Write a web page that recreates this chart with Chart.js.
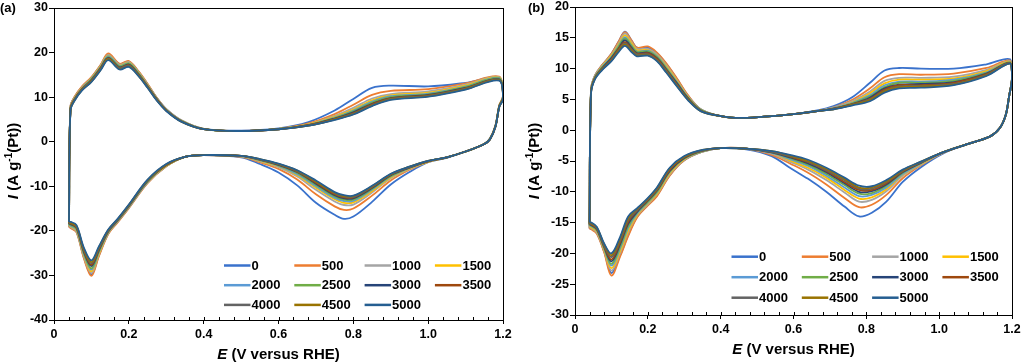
<!DOCTYPE html>
<html>
<head>
<meta charset="utf-8">
<script src="https://cdn.jsdelivr.net/npm/chart.js@4.4.1/dist/chart.umd.min.js"></script>
<style>
  html, body { margin: 0; padding: 0; background: #fff; }
  #wrap { position: relative; width: 1024px; height: 363px; }
  .panel { position: absolute; top: 0; width: 512px; height: 363px; }
</style>
</head>
<body>
<div id="wrap">
  <div class="panel" style="left:0"><canvas id="chartA"></canvas></div>
  <div class="panel" style="left:512px"><canvas id="chartB"></canvas></div>
</div>
<script>
// cycle numbers (legend) and Excel-style series colours
const cycles = ['0', '500', '1000', '1500', '2000', '2500', '3000', '3500', '4000', '4500', '5000'];
const colors = ['#3A72CC', '#ED7D31', '#A5A5A5', '#FFC000', '#5B9BD5', '#70AD47',
                '#264478', '#9E480E', '#636363', '#997300', '#255E91'];

// ---- panel (a): potential along the CV loop (anodic scan, then cathodic scan) ----
const eA = [0.040, 0.044, 0.055, 0.075, 0.10, 0.125, 0.145, 0.175, 0.20, 0.225, 0.25, 0.275, 0.30, 0.34, 0.40, 0.50, 0.60, 0.68, 0.75, 0.80, 0.85, 0.90, 1.00, 1.10, 1.19,
            1.20, 1.19, 1.18, 1.165, 1.15, 1.10, 1.05, 1.00, 0.95, 0.90, 0.85, 0.80, 0.775, 0.75, 0.70, 0.65, 0.60, 0.55, 0.50, 0.40, 0.35, 0.30, 0.25, 0.20, 0.17, 0.145, 0.12, 0.10, 0.08, 0.06, 0.045, 0.040];

// current, A g-1(Pt), one array per cycle count
const a0    = [-19.0, 7.8, 10.0, 12.3, 14.4, 17.2, 19.6, 17.4, 18.0, 15.8, 12.9, 9.8, 7.3, 4.8, 2.9, 2.5, 3.0, 4.4, 7.0, 9.6, 12.1, 12.6, 12.4, 13.2, 14.3,
               10.2, 8.1, 3.6, 0.7, -0.5, -2.2, -3.6, -4.6, -6.8, -9.6, -13.5, -16.8, -17.3, -16.4, -13.7, -9.8, -6.9, -5.0, -3.5, -3.0, -3.4, -5.5, -9.2, -14.8, -18.0, -20.6, -25.5, -29.8, -26.0, -20.2, -19.3, -19.0];
const a500  = [-19.1, 7.9, 10.1, 12.4, 14.5, 17.3, 19.8, 17.5, 18.1, 15.9, 13.0, 9.8, 7.3, 4.8, 2.9, 2.4, 2.9, 4.1, 6.2, 8.3, 10.5, 11.4, 11.8, 13.1, 14.6,
               10.3, 8.2, 3.7, 0.7, -0.5, -2.2, -3.5, -4.5, -6.3, -8.7, -12.1, -15.0, -15.3, -14.5, -11.8, -8.5, -6.1, -4.6, -3.4, -3.0, -3.4, -5.5, -9.3, -14.9, -18.1, -20.7, -25.7, -30.1, -26.2, -20.3, -19.4, -19.1];
const a1000 = [-18.9, 7.7, 9.9, 12.2, 14.3, 17.1, 19.5, 17.3, 17.9, 15.7, 12.8, 9.7, 7.3, 4.8, 2.9, 2.4, 2.9, 3.9, 5.8, 7.6, 9.7, 10.7, 11.3, 12.8, 14.5,
               10.2, 8.1, 3.6, 0.6, -0.5, -2.2, -3.5, -4.5, -6.1, -8.2, -11.4, -14.1, -14.2, -13.4, -10.8, -7.8, -5.7, -4.4, -3.3, -3.0, -3.4, -5.5, -9.1, -14.7, -17.9, -20.5, -25.3, -29.5, -25.8, -20.1, -19.2, -18.9];
const a1500 = [-18.8, 7.6, 9.8, 12.1, 14.2, 17.0, 19.3, 17.1, 17.7, 15.6, 12.7, 9.7, 7.2, 4.7, 2.9, 2.4, 2.9, 3.9, 5.6, 7.2, 9.3, 10.4, 11.0, 12.6, 14.4,
               10.1, 8.1, 3.6, 0.6, -0.5, -2.2, -3.5, -4.5, -6.0, -8.0, -11.1, -13.6, -13.7, -12.9, -10.3, -7.5, -5.5, -4.3, -3.3, -3.0, -3.4, -5.4, -9.0, -14.6, -17.8, -20.4, -25.1, -29.1, -25.5, -19.9, -19.0, -18.8];
const a2000 = [-18.7, 7.5, 9.7, 12.0, 14.1, 16.8, 19.2, 17.0, 17.6, 15.5, 12.6, 9.6, 7.2, 4.7, 2.9, 2.4, 2.9, 3.8, 5.4, 7.0, 9.0, 10.2, 10.8, 12.4, 14.3,
               10.0, 8.0, 3.5, 0.6, -0.5, -2.2, -3.5, -4.4, -5.9, -7.8, -10.8, -13.3, -13.3, -12.6, -10.0, -7.3, -5.4, -4.2, -3.3, -3.0, -3.4, -5.3, -9.0, -14.6, -17.8, -20.3, -24.8, -28.7, -25.3, -19.7, -18.9, -18.7];
const a2500 = [-18.6, 7.4, 9.6, 11.9, 14.0, 16.7, 19.0, 16.9, 17.5, 15.4, 12.5, 9.5, 7.1, 4.7, 2.8, 2.4, 2.9, 3.8, 5.3, 6.8, 8.8, 10.0, 10.6, 12.3, 14.2,
               10.0, 8.0, 3.5, 0.6, -0.5, -2.2, -3.5, -4.4, -5.8, -7.7, -10.6, -13.0, -13.0, -12.3, -9.7, -7.0, -5.3, -4.1, -3.2, -3.0, -3.4, -5.3, -8.9, -14.5, -17.7, -20.2, -24.6, -28.4, -25.0, -19.5, -18.7, -18.6];
const a3000 = [-18.4, 7.3, 9.5, 11.8, 13.8, 16.6, 18.8, 16.7, 17.3, 15.2, 12.4, 9.5, 7.1, 4.6, 2.8, 2.4, 2.8, 3.7, 5.2, 6.6, 8.5, 9.8, 10.5, 12.1, 14.0,
               9.9, 7.9, 3.5, 0.5, -0.5, -2.2, -3.5, -4.4, -5.8, -7.5, -10.4, -12.7, -12.7, -12.0, -9.4, -6.8, -5.2, -4.0, -3.2, -3.0, -3.4, -5.2, -8.8, -14.4, -17.6, -20.1, -24.3, -27.9, -24.7, -19.3, -18.5, -18.4];
const a3500 = [-18.3, 7.3, 9.5, 11.8, 13.7, 16.5, 18.7, 16.6, 17.2, 15.1, 12.4, 9.4, 7.0, 4.6, 2.8, 2.4, 2.8, 3.7, 5.1, 6.4, 8.4, 9.7, 10.4, 12.0, 13.9,
               9.8, 7.9, 3.4, 0.5, -0.5, -2.2, -3.5, -4.4, -5.7, -7.4, -10.2, -12.5, -12.5, -11.8, -9.2, -6.7, -5.1, -4.0, -3.2, -3.0, -3.4, -5.2, -8.7, -14.3, -17.5, -20.0, -24.1, -27.6, -24.5, -19.2, -18.4, -18.3];
const a4000 = [-18.2, 7.2, 9.4, 11.7, 13.6, 16.3, 18.6, 16.5, 17.1, 15.0, 12.3, 9.3, 7.0, 4.6, 2.8, 2.4, 2.8, 3.6, 5.0, 6.3, 8.2, 9.6, 10.3, 11.9, 13.9,
               9.8, 7.9, 3.4, 0.5, -0.5, -2.2, -3.5, -4.3, -5.7, -7.3, -10.1, -12.4, -12.3, -11.6, -9.0, -6.6, -5.0, -4.0, -3.2, -3.0, -3.4, -5.1, -8.7, -14.3, -17.5, -19.9, -23.9, -27.3, -24.3, -19.0, -18.3, -18.2];
const a4500 = [-18.1, 7.1, 9.3, 11.6, 13.5, 16.2, 18.5, 16.3, 16.9, 14.9, 12.2, 9.3, 7.0, 4.5, 2.8, 2.4, 2.8, 3.6, 5.0, 6.2, 8.1, 9.5, 10.2, 11.8, 13.8,
               9.7, 7.8, 3.4, 0.5, -0.5, -2.2, -3.5, -4.3, -5.6, -7.3, -10.0, -12.2, -12.2, -11.5, -8.9, -6.5, -5.0, -3.9, -3.2, -3.0, -3.4, -5.1, -8.6, -14.2, -17.4, -19.8, -23.7, -27.0, -24.1, -18.9, -18.2, -18.1];
const a5000 = [-18.0, 7.0, 9.2, 11.5, 13.4, 16.1, 18.3, 16.2, 16.8, 14.8, 12.1, 9.2, 6.9, 4.5, 2.8, 2.4, 2.8, 3.6, 4.9, 6.1, 8.0, 9.4, 10.1, 11.7, 13.7,
               9.6, 7.8, 3.4, 0.5, -0.5, -2.2, -3.5, -4.3, -5.6, -7.2, -9.9, -12.1, -12.0, -11.3, -8.7, -6.4, -4.9, -3.9, -3.2, -3.0, -3.4, -5.0, -8.5, -14.1, -17.3, -19.7, -23.5, -26.6, -23.8, -18.7, -18.0, -18.0];

// ---- panel (b) ----
const eB = [0.040, 0.044, 0.055, 0.075, 0.10, 0.12, 0.137, 0.155, 0.17, 0.20, 0.225, 0.25, 0.28, 0.31, 0.345, 0.39, 0.44, 0.52, 0.60, 0.665, 0.71, 0.76, 0.81, 0.85, 0.89, 0.95, 1.04, 1.13, 1.195,
            1.20, 1.192, 1.183, 1.167, 1.14, 1.075, 1.01, 0.95, 0.90, 0.855, 0.815, 0.78, 0.74, 0.69, 0.64, 0.59, 0.54, 0.47, 0.40, 0.35, 0.30, 0.26, 0.225, 0.197, 0.17, 0.146, 0.124, 0.10, 0.08, 0.06, 0.045, 0.040];

const b0    = [-15.9, 6.6, 8.9, 10.6, 12.4, 14.4, 16.0, 14.6, 13.4, 13.4, 12.5, 10.8, 8.3, 5.6, 3.4, 2.4, 2.0, 2.2, 2.6, 3.2, 3.9, 5.3, 7.7, 9.7, 10.1, 10.0, 10.0, 10.7, 11.5,
               8.6, 5.5, 2.5, 0.4, -1.0, -2.3, -3.8, -6.0, -8.4, -11.6, -13.4, -14.0, -12.4, -10.0, -7.9, -6.1, -4.2, -3.1, -2.9, -3.5, -4.9, -7.3, -10.6, -12.3, -14.1, -17.0, -20.3, -23.2, -19.7, -16.7, -16.0, -15.9];
const b500  = [-16.0, 6.6, 8.9, 10.6, 12.4, 14.4, 15.9, 14.6, 13.4, 13.6, 12.6, 10.9, 8.4, 5.7, 3.4, 2.4, 2.0, 2.2, 2.6, 3.1, 3.7, 4.9, 6.8, 8.6, 9.1, 9.0, 9.2, 10.1, 11.3,
               8.6, 5.5, 2.5, 0.4, -1.0, -2.3, -3.7, -5.7, -7.8, -10.5, -12.1, -12.5, -11.0, -8.8, -6.9, -5.4, -4.0, -3.0, -2.9, -3.5, -4.9, -7.4, -10.7, -12.4, -14.2, -17.2, -20.5, -23.6, -19.8, -16.8, -16.1, -16.0];
const b1000 = [-15.8, 6.5, 8.8, 10.5, 12.2, 14.1, 15.7, 14.3, 13.2, 13.2, 12.3, 10.6, 8.1, 5.5, 3.4, 2.4, 2.0, 2.2, 2.6, 3.1, 3.7, 4.7, 6.3, 8.0, 8.5, 8.5, 8.7, 9.8, 11.2,
               8.5, 5.5, 2.5, 0.4, -1.0, -2.3, -3.7, -5.6, -7.4, -9.9, -11.3, -11.6, -10.1, -8.1, -6.4, -5.1, -3.8, -3.0, -2.9, -3.5, -4.8, -7.2, -10.4, -12.2, -13.9, -16.6, -19.9, -22.8, -19.5, -16.6, -15.9, -15.8];
const b1500 = [-15.6, 6.4, 8.7, 10.4, 12.1, 13.9, 15.4, 14.1, 13.0, 13.0, 12.1, 10.4, 8.0, 5.4, 3.3, 2.4, 2.0, 2.2, 2.6, 3.1, 3.6, 4.5, 6.0, 7.6, 8.2, 8.2, 8.4, 9.6, 11.1,
               8.5, 5.5, 2.5, 0.4, -1.0, -2.3, -3.6, -5.5, -7.2, -9.6, -10.9, -11.1, -9.7, -7.7, -6.1, -4.9, -3.7, -3.0, -2.9, -3.4, -4.7, -7.0, -10.3, -12.0, -13.8, -16.3, -19.6, -22.4, -19.4, -16.4, -15.8, -15.6];
const b2000 = [-15.5, 6.4, 8.7, 10.3, 11.9, 13.7, 15.1, 13.8, 12.8, 12.9, 12.0, 10.2, 7.8, 5.3, 3.3, 2.4, 2.0, 2.2, 2.6, 3.1, 3.6, 4.4, 5.7, 7.3, 7.9, 7.9, 8.2, 9.4, 11.0,
               8.5, 5.5, 2.5, 0.4, -1.0, -2.3, -3.6, -5.4, -7.1, -9.3, -10.5, -10.7, -9.3, -7.4, -5.8, -4.7, -3.7, -3.0, -2.9, -3.4, -4.6, -6.8, -10.1, -11.9, -13.6, -15.9, -19.2, -22.0, -19.2, -16.3, -15.6, -15.5];
const b2500 = [-15.4, 6.3, 8.6, 10.2, 11.8, 13.6, 14.9, 13.7, 12.7, 12.8, 11.9, 10.1, 7.7, 5.3, 3.3, 2.4, 2.0, 2.2, 2.6, 3.1, 3.5, 4.3, 5.5, 7.0, 7.7, 7.7, 8.0, 9.3, 11.0,
               8.4, 5.5, 2.5, 0.4, -1.0, -2.3, -3.6, -5.3, -6.9, -9.0, -10.2, -10.3, -8.9, -7.1, -5.6, -4.5, -3.6, -3.0, -2.9, -3.4, -4.6, -6.7, -10.0, -11.8, -13.4, -15.6, -18.9, -21.7, -19.1, -16.2, -15.5, -15.4];
const b3000 = [-15.3, 6.2, 8.5, 10.1, 11.7, 13.3, 14.6, 13.4, 12.5, 12.6, 11.7, 9.9, 7.6, 5.2, 3.2, 2.4, 2.0, 2.2, 2.6, 3.1, 3.5, 4.2, 5.3, 6.8, 7.4, 7.5, 7.8, 9.2, 10.9,
               8.4, 5.5, 2.5, 0.4, -1.0, -2.3, -3.6, -5.3, -6.8, -8.8, -9.9, -10.0, -8.6, -6.8, -5.4, -4.4, -3.6, -3.0, -2.9, -3.3, -4.5, -6.6, -9.8, -11.6, -13.3, -15.2, -18.5, -21.3, -18.9, -16.1, -15.4, -15.3];
const b3500 = [-15.2, 6.2, 8.5, 10.0, 11.5, 13.2, 14.3, 13.2, 12.4, 12.5, 11.6, 9.8, 7.4, 5.1, 3.2, 2.4, 2.0, 2.2, 2.6, 3.1, 3.5, 4.2, 5.1, 6.6, 7.3, 7.3, 7.7, 9.1, 10.9,
               8.4, 5.5, 2.5, 0.4, -1.0, -2.3, -3.6, -5.2, -6.7, -8.6, -9.7, -9.7, -8.4, -6.6, -5.2, -4.3, -3.5, -3.0, -2.9, -3.3, -4.4, -6.5, -9.7, -11.5, -13.1, -14.9, -18.2, -21.0, -18.8, -16.0, -15.3, -15.2];
const b4000 = [-15.2, 6.1, 8.4, 9.9, 11.4, 13.0, 14.1, 13.1, 12.3, 12.3, 11.4, 9.7, 7.3, 5.0, 3.2, 2.4, 2.0, 2.2, 2.6, 3.1, 3.4, 4.1, 5.0, 6.4, 7.1, 7.2, 7.5, 9.0, 10.9,
               8.3, 5.5, 2.5, 0.4, -1.0, -2.3, -3.6, -5.2, -6.6, -8.4, -9.5, -9.5, -8.1, -6.5, -5.1, -4.2, -3.5, -3.0, -2.9, -3.3, -4.3, -6.3, -9.6, -11.4, -13.0, -14.6, -17.9, -20.6, -18.7, -15.9, -15.2, -15.2];
const b4500 = [-15.1, 6.1, 8.4, 9.9, 11.3, 12.9, 13.9, 12.9, 12.1, 12.2, 11.3, 9.5, 7.2, 5.0, 3.1, 2.4, 2.0, 2.2, 2.6, 3.1, 3.4, 4.1, 4.9, 6.3, 7.0, 7.1, 7.4, 8.9, 10.8,
               8.3, 5.5, 2.5, 0.4, -1.0, -2.3, -3.6, -5.1, -6.5, -8.3, -9.3, -9.3, -7.9, -6.3, -5.0, -4.1, -3.4, -3.0, -2.9, -3.2, -4.3, -6.2, -9.4, -11.3, -12.8, -14.3, -17.6, -20.3, -18.5, -15.8, -15.1, -15.1];
const b5000 = [-15.0, 6.0, 8.3, 9.8, 11.2, 12.7, 13.7, 12.7, 12.0, 12.1, 11.2, 9.4, 7.1, 4.9, 3.1, 2.4, 2.0, 2.2, 2.6, 3.1, 3.4, 4.0, 4.7, 6.1, 6.8, 6.9, 7.3, 8.8, 10.8,
               8.3, 5.5, 2.5, 0.4, -1.0, -2.3, -3.6, -5.1, -6.4, -8.1, -9.1, -9.0, -7.7, -6.1, -4.8, -4.0, -3.4, -3.0, -2.9, -3.2, -4.2, -6.1, -9.3, -11.2, -12.7, -14.0, -17.3, -20.0, -18.4, -15.7, -15.0, -15.0];

const FONT = '"Liberation Sans", Arial, sans-serif';

// plot frame plus the small inward ticks on the E axis (minor every 0.04)
const frame = {
  id: 'frame',
  afterDatasetsDraw(chart) {
    const { ctx, chartArea: a, scales: { x } } = chart;
    ctx.save();
    ctx.strokeStyle = '#000';
    ctx.lineWidth = 1;
    ctx.strokeRect(Math.round(a.left) + 0.5, Math.round(a.top) + 0.5,
                   Math.round(a.right - a.left), Math.round(a.bottom - a.top));
    ctx.beginPath();
    for (let i = 0; i <= 30; i++) {
      const px = Math.round(x.getPixelForValue(i * 0.04)) + 0.5;
      ctx.moveTo(px, a.bottom);
      ctx.lineTo(px, a.bottom - 3);
    }
    ctx.stroke();
    ctx.restore();
  }
};

function fontOf(p) {
  return (p.italic ? 'italic ' : '') + 'bold ' + (p.sup ? 10 : 15) + 'px ' + FONT;
}
function drawRich(ctx, parts, cx, cy) {
  let total = 0;
  parts.forEach(p => { ctx.font = fontOf(p); p.w = ctx.measureText(p.t).width; total += p.w; });
  let x = cx - total / 2;
  parts.forEach(p => {
    ctx.font = fontOf(p);
    ctx.fillText(p.t, x, cy + (p.sup ? -5 : 0));
    x += p.w;
  });
}

// axis titles with italic symbols / superscript, panel tag and the 4-column legend
const decor = {
  id: 'decor',
  afterDraw(chart, args, o) {
    const ctx = chart.ctx;
    const a = chart.chartArea;
    ctx.save();
    ctx.fillStyle = '#000';
    ctx.textBaseline = 'middle';
    ctx.textAlign = 'left';

    drawRich(ctx, [{ t: 'E', italic: true }, { t: ' (V versus RHE)' }], (a.left + a.right) / 2, o.xTitleY);

    ctx.save();
    ctx.translate(o.yTitleX, o.yTitleY);
    ctx.rotate(-Math.PI / 2);
    drawRich(ctx, [{ t: 'I', italic: true }, { t: ' (A g' }, { t: '-1', sup: true }, { t: '(Pt))' }], 0, 0);
    ctx.restore();

    ctx.font = 'bold ' + o.tagSize + 'px ' + FONT;
    ctx.fillText(o.tag, o.tagX, o.tagY);

    ctx.font = 'bold 13px ' + FONT;
    chart.data.datasets.forEach((ds, i) => {
      const x = o.legX + (i % 4) * o.legColW;
      const y = o.legY + Math.floor(i / 4) * o.legRowH;
      ctx.strokeStyle = ds.borderColor;
      ctx.lineWidth = 2.5;
      ctx.beginPath();
      ctx.moveTo(x, y);
      ctx.lineTo(x + 26.5, y);
      ctx.stroke();
      ctx.fillText(ds.label, x + 27.5, y + 0.5);
    });
    ctx.restore();
  }
};

function makeChart(id, eArr, series, ax, d) {
  const tickFont = { family: FONT, size: 12.5, weight: 'bold' };
  return new Chart(document.getElementById(id), {
    type: 'scatter',
    data: {
      datasets: series.map((arr, i) => ({
        label: cycles[i],
        data: eArr.map((e, j) => ({ x: e, y: arr[j] })),
        showLine: true,
        borderColor: colors[i],
        borderWidth: 1.8,
        pointRadius: 0,
        tension: 0.35,
        fill: false,
        order: series.length - 1 - i
      }))
    },
    options: {
      responsive: true,
      maintainAspectRatio: false,
      animation: false,
      events: [],
      layout: { padding: ax.padding },
      scales: {
        x: {
          type: 'linear', min: 0, max: 1.2,
          ticks: { stepSize: 0.2, color: '#000', font: tickFont, padding: 3, maxRotation: 0 },
          grid: { drawOnChartArea: false, tickLength: 4, color: '#000' },
          border: { display: false },
          afterFit(s) { s.height = ax.xHeight; s.paddingLeft = 0; s.paddingRight = 0; }
        },
        y: {
          min: ax.yMin, max: ax.yMax,
          ticks: { stepSize: ax.yStep, color: '#000', font: tickFont, padding: 1 },
          grid: { drawOnChartArea: false, tickLength: 5, color: '#000' },
          border: { display: false },
          afterFit(s) { s.width = ax.yWidth; s.paddingTop = 0; s.paddingBottom = 0; }
        }
      },
      plugins: {
        legend: { display: false },
        tooltip: { enabled: false },
        decor: d
      }
    },
    plugins: [frame, decor]
  });
}

makeChart('chartA', eA, [a0, a500, a1000, a1500, a2000, a2500, a3000, a3500, a4000, a4500, a5000],
  { padding: { left: 0, top: 8, right: 9, bottom: 0 }, xHeight: 43, yWidth: 54, yMin: -40, yMax: 30, yStep: 10 },
  { xTitleY: 355, yTitleX: 14, yTitleY: 161, tag: '(a)', tagX: 0, tagY: 8, tagSize: 13,
    legX: 224, legY: 265.5, legColW: 70.3, legRowH: 19.7 });

makeChart('chartB', eB, [b0, b500, b1000, b1500, b2000, b2500, b3000, b3500, b4000, b4500, b5000],
  { padding: { left: 0, top: 7, right: 12, bottom: 0 }, xHeight: 48, yWidth: 63, yMin: -30, yMax: 20, yStep: 5 },
  { xTitleY: 350, yTitleX: 23, yTitleY: 161, tag: '(b)', tagX: 16, tagY: 8, tagSize: 13,
    legX: 219.5, legY: 256.7, legColW: 70.3, legRowH: 20.5 });
</script>
</body>
</html>
